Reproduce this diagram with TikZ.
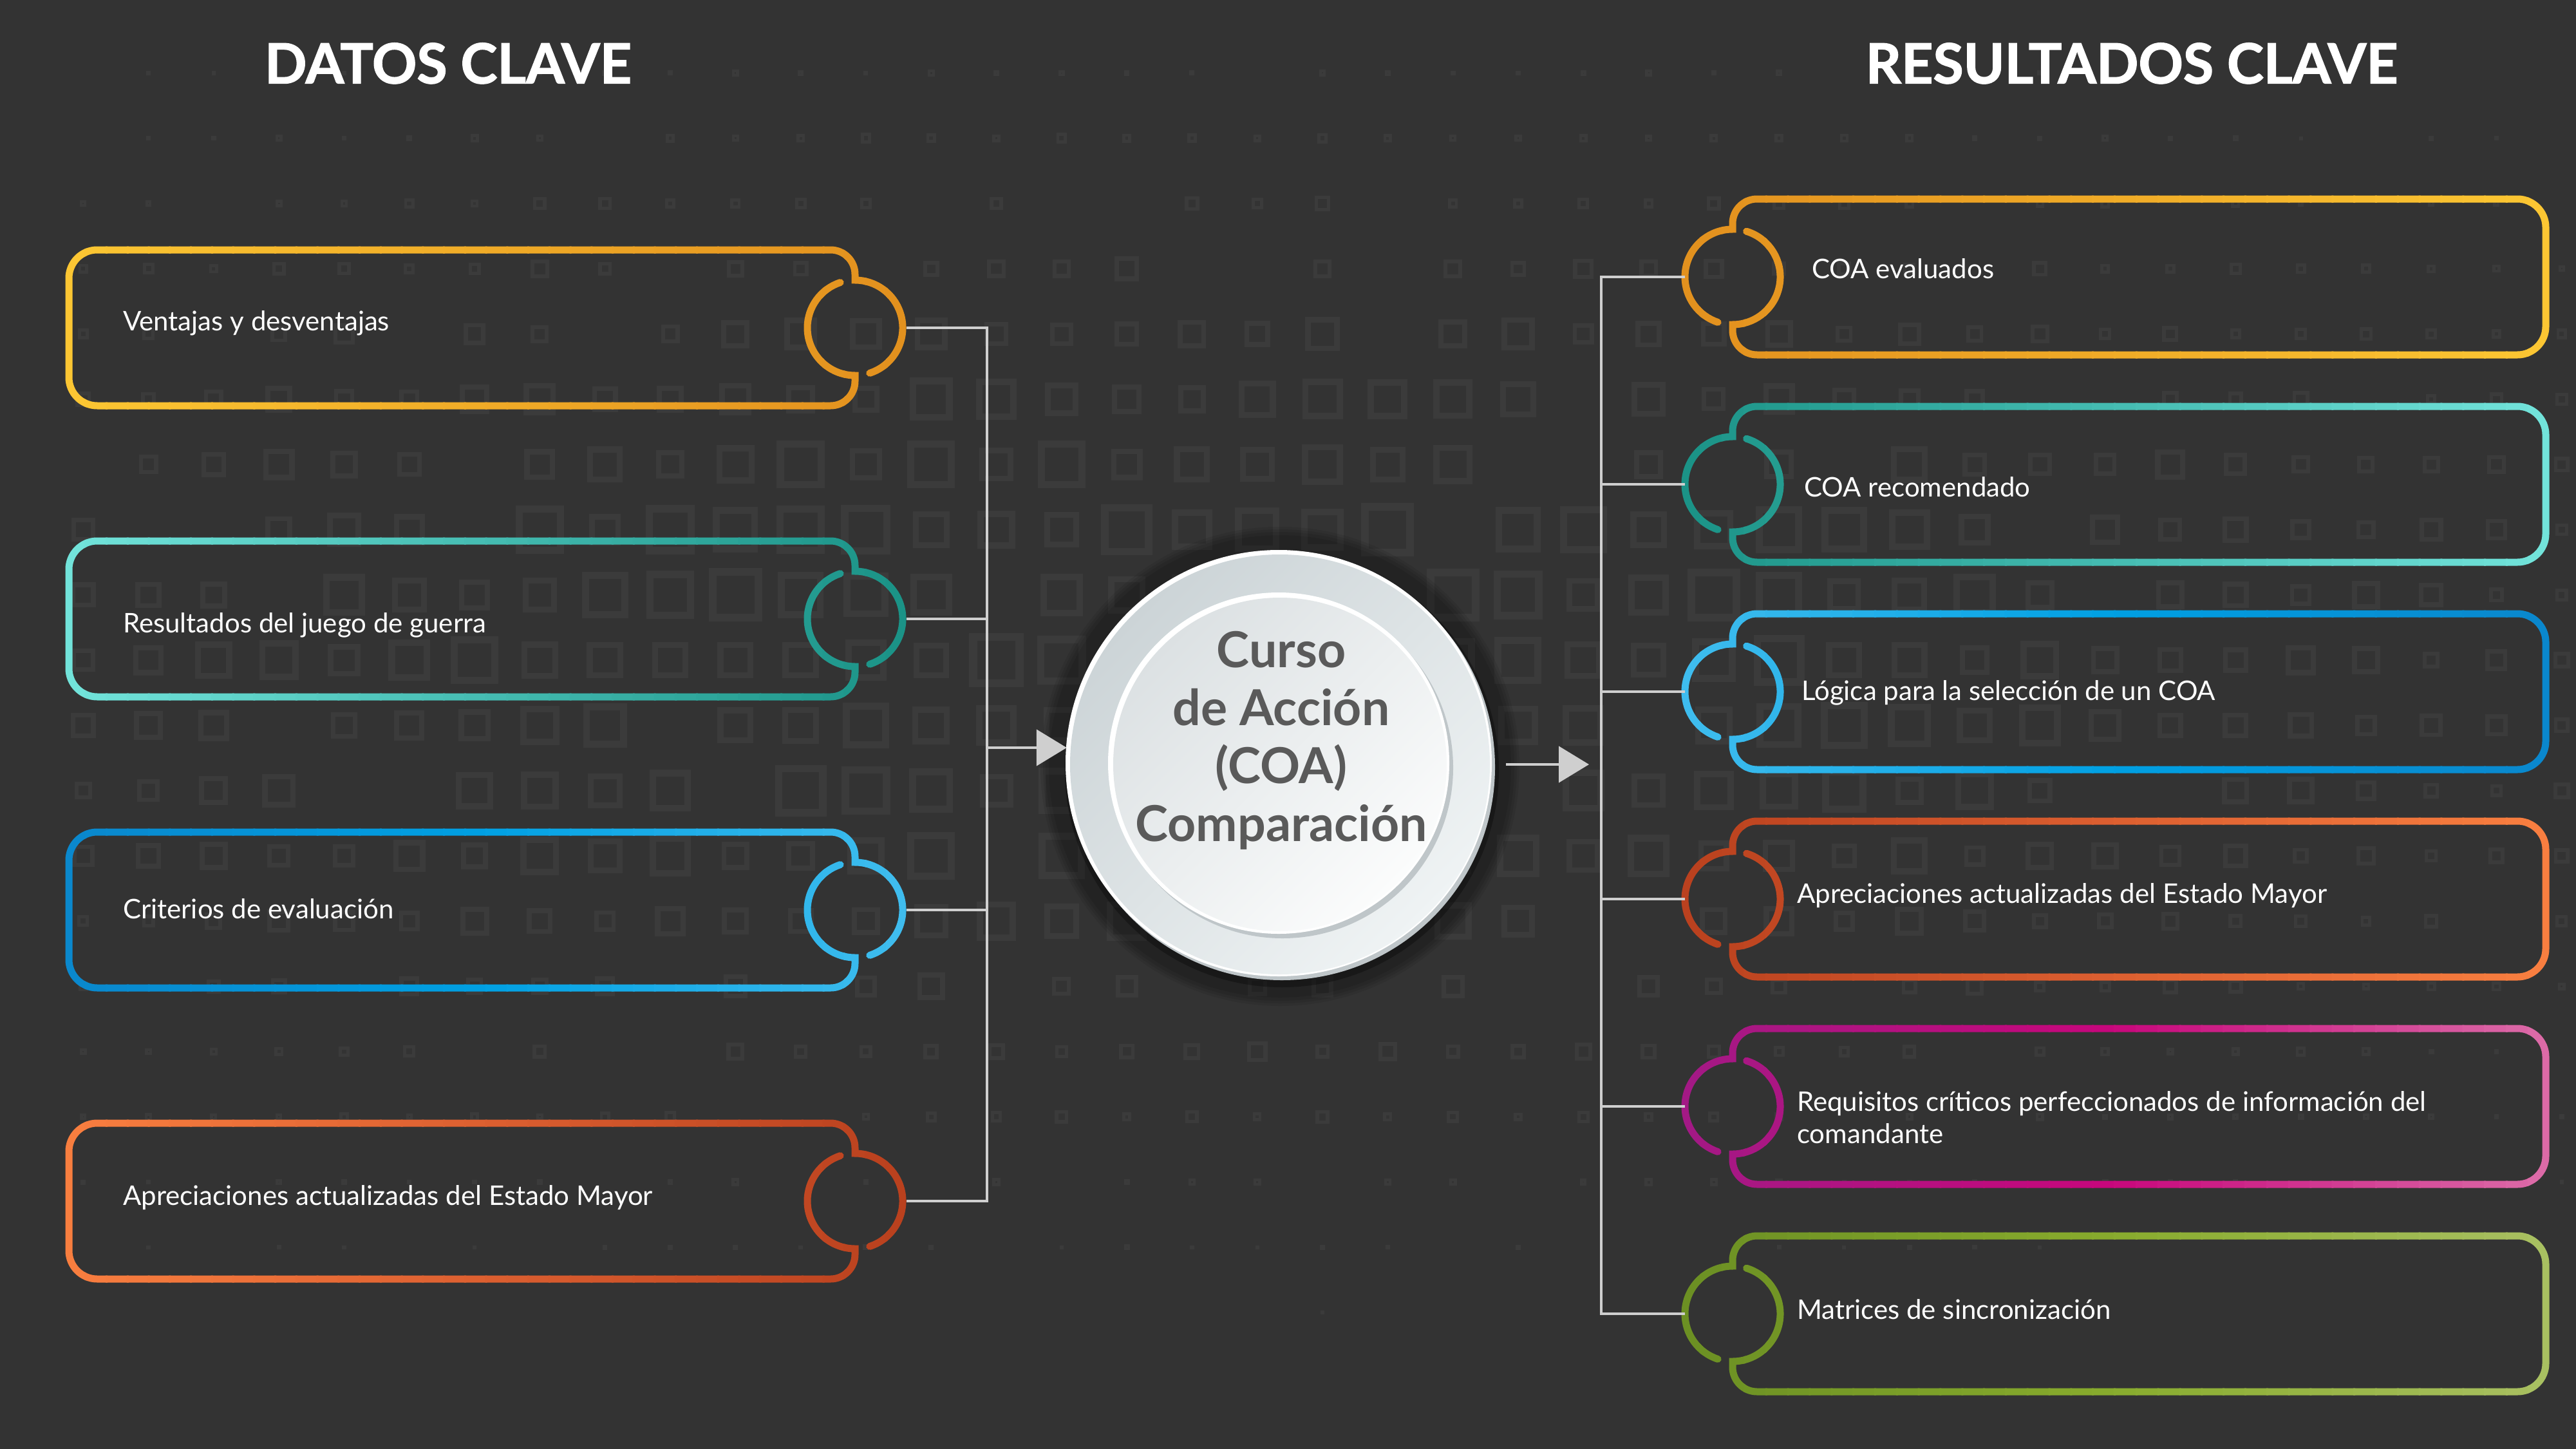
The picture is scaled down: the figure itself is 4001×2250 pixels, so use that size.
\documentclass[tikz,border=0pt]{standalone}
\usepackage{fontspec}
\setmainfont{Lato}
\newfontfamily\heavyfont{Lato}[BoldFeatures={FakeBold=1.6}]
\usetikzlibrary{arrows.meta}
\definecolor{bg}{HTML}{333333}
\definecolor{sqc}{HTML}{3B3B3B}
\definecolor{connc}{HTML}{CFCFCF}
\definecolor{ctext}{HTML}{5A5A5A}
\definecolor{od1}{HTML}{CCD4D7}
\definecolor{od2}{HTML}{EFF3F4}
\definecolor{id1}{HTML}{DCE1E3}
\definecolor{id2}{HTML}{FBFCFC}
\definecolor{rimg}{HTML}{BFC6C9}
% gradient colours
\definecolor{Ya}{HTML}{FCC733}\definecolor{Yb}{HTML}{F0AB27}\definecolor{Yc}{HTML}{E2901E}
\definecolor{Ta}{HTML}{73E4DB}\definecolor{Tb}{HTML}{45BCB2}\definecolor{Tc}{HTML}{1A9286}
\definecolor{Ba}{HTML}{0A87CC}\definecolor{Bb}{HTML}{00A0E3}\definecolor{Bc}{HTML}{40BDEE}
\definecolor{Oa}{HTML}{F97F40}\definecolor{Ob}{HTML}{DC5F30}\definecolor{Oc}{HTML}{B9401E}
\definecolor{Ma}{HTML}{A21A85}\definecolor{Mb}{HTML}{C7077C}\definecolor{Mc}{HTML}{DC6CA8}
\definecolor{Ga}{HTML}{6B8F23}\definecolor{Gb}{HTML}{88AB2D}\definecolor{Gc}{HTML}{A9C062}

\newcommand\LPath[1]{(1350.87,#1-70.38) arc[start angle=-72,end angle=90,radius=74] -- (1328,#1+83) arc[start angle=0,end angle=90,radius=38] -- (151,#1+121) arc[start angle=90,end angle=180,radius=44] -- (107,#1-77) arc[start angle=180,end angle=270,radius=44] -- (1290,#1-121) arc[start angle=270,end angle=360,radius=38] -- (1328,#1-74) arc[start angle=270,end angle=108,radius=74]}
\newcommand\RPath[1]{(2712.64,#1+70.77) arc[start angle=73,end angle=-90,radius=74] -- (2691,#1-83) arc[start angle=180,end angle=270,radius=38] -- (3910,#1-121) arc[start angle=270,end angle=360,radius=44] -- (3954,#1+77) arc[start angle=0,end angle=90,radius=44] -- (2729,#1+121) arc[start angle=90,end angle=180,radius=38] -- (2691,#1+74) arc[start angle=90,end angle=252,radius=74]}

\newcommand\gradbox[7]{%
 \foreach \k in {0,...,39}{%
  \pgfmathsetmacro\xl{#3+(#4-#3)/40*\k-1.5}%
  \pgfmathsetmacro\xr{#3+(#4-#3)/40*(\k+1)+1.5}%
  \pgfmathtruncatemacro\half{\k<20 ? 1 : 0}%
  \ifnum\half=1
    \pgfmathtruncatemacro\p{100-5*(\k+0.5)}%
    \colorlet{gc}{#5!\p!#6}%
  \else
    \pgfmathtruncatemacro\p{100-5*(\k-19.5)}%
    \colorlet{gc}{#6!\p!#7}%
  \fi
  \begin{scope}
   \clip (\xl,#2-140) rectangle (\xr,#2+140);
   \draw[ring, gc] #1{#2};
  \end{scope}
 }%
}

\begin{document}
\begin{tikzpicture}[x=1pt,y=1pt,
  conn/.style={draw=connc, line width=4.5pt},
  tipped/.style={-{Triangle[length=47pt,width=56pt]}},
  lbl/.style={font=\fontsize{42}{50}\selectfont, text=white, inner sep=0pt},
  ttl/.style={font=\heavyfont\fontsize{86}{100}\selectfont\bfseries, text=white, inner sep=0pt},
  ring/.style={line width=11pt, line cap=round},
  hub/.style={circle, inner sep=0pt, minimum size=160pt}]
\useasboundingbox (0,0) rectangle (4001,-2250);
\fill[bg] (0,0) rectangle (4001,-2250);

% background squares
\pgfmathsetseed{4242}
\foreach \i in {-1,...,37}{\foreach \j in {0,...,21}{%
  \pgfmathsetmacro\xx{230.6+101.3*\i}%
  \pgfmathsetmacro\yy{113.4+101.3*\j}%
  \pgfmathsetmacro\dx{(\xx-1850)/1900}%
  \pgfmathsetmacro\dy{(\yy-1000)/560}%
  \pgfmathsetmacro\dd{\dx*\dx+\dy*\dy}%
  \pgfmathsetmacro\s{86/(1+\dd*\dd)*(0.6+0.4*rnd)}%
  \pgfmathtruncatemacro\ok{(\s>6)*(rnd>0.12)}%
  \ifnum\ok=1
    \pgfmathsetmacro\lw{0.11*\s+3}%
    \pgfmathsetmacro\h{(\s-\lw)/2}%
    \draw[sqc, line width=\lw pt] (\xx-\h,-\yy-\h) rectangle (\xx+\h,-\yy+\h);
  \fi
}}

% titles
\node[ttl, anchor=base] (t1) at (696,-129.5) {DATOS CLAVE};
\node[ttl, anchor=base] (t2) at (3311,-129.5) {RESULTADOS CLAVE};

% center disc
\node[circle, inner sep=0pt, minimum size=662pt] (disc) at (1988,-1187) {};
\foreach \r in {372,368,364,359}{\fill[black, opacity=0.08] ([yshift=-3pt]disc.center) circle[radius=\r];}
\fill[black, opacity=0.3] ([shift={(3pt,-9pt)}]disc.center) circle[radius=337];
\fill[rimg] ([shift={(3pt,-4pt)}]disc.center) circle[radius=331];
\fill[white] ([shift={(-2pt,2pt)}]disc.center) circle[radius=331];
\shade[top color=od1, bottom color=od2, shading angle=45] (disc.center) circle[radius=326];
\fill[rimg] ([shift={(4pt,-5pt)}]disc.center) circle[radius=265];
\fill[white] ([shift={(-2pt,2pt)}]disc.center) circle[radius=265];
\shade[top color=id1, bottom color=id2, shading angle=45] (disc.center) circle[radius=259];
\node[font=\fontsize{77}{90}\selectfont\bfseries, text=ctext, align=center, inner sep=0pt] (ctitle) at (1990,-1150) {Curso\\de Acción\\(COA)\\Comparación};

% left boxes
\gradbox{\LPath}{-509}{100}{1410}{Ya}{Yb}{Yc}
\gradbox{\LPath}{-961}{100}{1410}{Ta}{Tb}{Tc}
\gradbox{\LPath}{-1413}{100}{1410}{Ba}{Bb}{Bc}
\gradbox{\LPath}{-1865}{100}{1410}{Oa}{Ob}{Oc}
\node[hub] (lc1) at (1328,-509) {};
\node[hub] (lc2) at (1328,-961) {};
\node[hub] (lc3) at (1328,-1413) {};
\node[hub] (lc4) at (1328,-1865) {};
\node[lbl, anchor=base west] (lt1) at (191,-513) {Ventajas y desventajas};
\node[lbl, anchor=base west] (lt2) at (191,-982) {Resultados del juego de guerra};
\node[lbl, anchor=base west] (lt3) at (191,-1426) {Criterios de evaluación};
\node[lbl, anchor=base west] (lt4) at (191,-1871) {Apreciaciones actualizadas del Estado Mayor};

% right boxes
\gradbox{\RPath}{-430}{2608}{3961}{Yc}{Yb}{Ya}
\gradbox{\RPath}{-752}{2608}{3961}{Tc}{Tb}{Ta}
\gradbox{\RPath}{-1074}{2608}{3961}{Bc}{Bb}{Ba}
\gradbox{\RPath}{-1396}{2608}{3961}{Oc}{Ob}{Oa}
\gradbox{\RPath}{-1718}{2608}{3961}{Ma}{Mb}{Mc}
\gradbox{\RPath}{-2040}{2608}{3961}{Ga}{Gb}{Gc}
\node[hub] (rc1) at (2691,-430) {};
\node[hub] (rc2) at (2691,-752) {};
\node[hub] (rc3) at (2691,-1074) {};
\node[hub] (rc4) at (2691,-1396) {};
\node[hub] (rc5) at (2691,-1718) {};
\node[hub] (rc6) at (2691,-2040) {};
\node[lbl, anchor=base west] (rt1) at (2814,-432) {COA evaluados};
\node[lbl, anchor=base west] (rt2) at (2802,-771) {COA recomendado};
\node[lbl, anchor=base west] (rt3) at (2798,-1087) {Lógica para la selección de un COA};
\node[lbl, anchor=base west] (rt4) at (2791,-1402) {Apreciaciones actualizadas del Estado Mayor};
\node[lbl, anchor=west, align=left] (rt5) at (2791,-1735) {Requisitos críticos perfeccionados de información del\\comandante};
\node[lbl, anchor=base west] (rt6) at (2791,-2048) {Matrices de sincronización};

% connectors left
\coordinate (lb1) at (1533,-509);
\coordinate (lb2) at (1533,-961);
\coordinate (lb3) at (1533,-1413);
\coordinate (lb4) at (1533,-1865);
\coordinate (la) at (1533,-1161);
\draw[conn] (lc1.east) -- (lb1) -- (lb4) -- (lc4.east);
\draw[conn] (lc2.east) -- (lb2);
\draw[conn] (lc3.east) -- (lb3);
\draw[conn, tipped] (la) -- (la -| disc.west);

% connectors right
\coordinate (rb1) at (2487,-430);
\coordinate (rb2) at (2487,-752);
\coordinate (rb3) at (2487,-1074);
\coordinate (rb4) at (2487,-1396);
\coordinate (rb5) at (2487,-1718);
\coordinate (rb6) at (2487,-2040);
\draw[conn] ([xshift=6pt]rc1.west) -- (rb1) -- (rb6) -- ([xshift=6pt]rc6.west);
\draw[conn] ([xshift=6pt]rc2.west) -- (rb2);
\draw[conn] ([xshift=6pt]rc3.west) -- (rb3);
\draw[conn] ([xshift=6pt]rc4.west) -- (rb4);
\draw[conn] ([xshift=6pt]rc5.west) -- (rb5);
\coordinate (ra) at ([xshift=20pt]disc.east);
\coordinate (rtip) at (2468,-1187);
\draw[conn, tipped] (ra) -- (rtip);
\end{tikzpicture}
\end{document}
